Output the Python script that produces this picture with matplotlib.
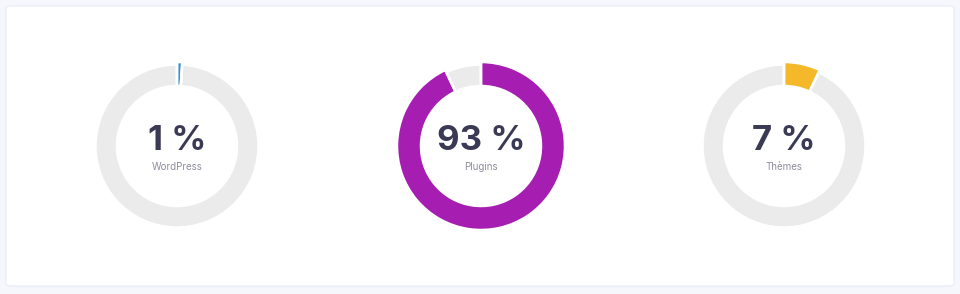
import matplotlib
matplotlib.use("Agg")
import matplotlib.pyplot as plt
from matplotlib.patches import FancyBboxPatch

# data
labels = ["WordPress", "Plugins", "Thèmes"]
values = [1, 93, 7]
colors = ["#3a8fd6", "#a51db1", "#f5b82a"]
rest_color = "#ebebeb"

W, H = 960, 294
fig = plt.figure(figsize=(W / 100, H / 100), dpi=100)
fig.patch.set_facecolor("#f6f7fc")

# white card, behind the axes
card = FancyBboxPatch((6 / W, 8 / H), 948 / W, 280 / H,
                      boxstyle="round,pad=0,rounding_size=0.006",
                      transform=fig.transFigure, facecolor="white",
                      edgecolor="#e8eaf3", linewidth=0.8, zorder=-10)
fig.patches.append(card)

centers = [(177, 146), (481, 146), (784, 146)]
box = 190

for (cx, cy), label, val, col in zip(centers, labels, values, colors):
    ax = fig.add_axes([(cx - box / 2) / W, (H - cy - box / 2) / H, box / W, box / H])
    ax.patch.set_visible(False)

    # grey remainder
    ax.pie([val, 100 - val], colors=["none", rest_color], radius=81.5,
           startangle=90, counterclock=False,
           wedgeprops=dict(width=22, edgecolor="white", linewidth=1.8))
    # coloured part, a bit larger
    ax.pie([val, 100 - val], colors=[col, "none"], radius=84,
           startangle=90, counterclock=False,
           wedgeprops=dict(width=24, edgecolor="white", linewidth=1.8))
    ax.set_xlim(-box / 2, box / 2)
    ax.set_ylim(-box / 2, box / 2)
    ax.set_aspect("equal")
    ax.axis("off")

    ax.text(0, 5, f"{val} %", ha="center", va="center", fontsize=25,
            fontweight="bold", family="Inter", color="#3b3a55")
    ax.text(0, -21, label, ha="center", va="center", fontsize=7,
            family="Inter", color="#8c8ca0")

fig.savefig("out.png", dpi=100, facecolor=fig.get_facecolor())
